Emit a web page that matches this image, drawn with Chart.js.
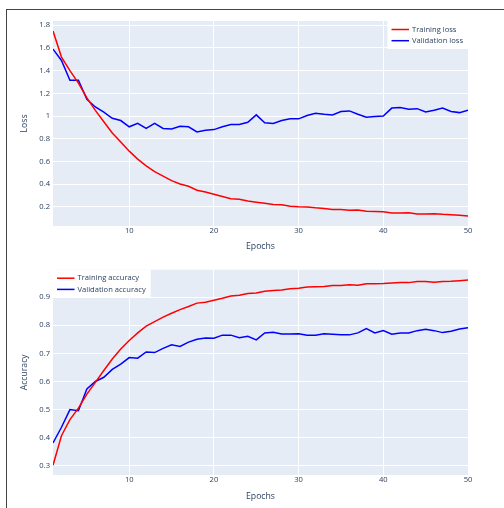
<!DOCTYPE html>
<html>
<head>
<meta charset="utf-8">
<script src="https://cdn.jsdelivr.net/npm/chart.js@4.4.1/dist/chart.umd.min.js"></script>
<style>
  html, body { margin: 0; padding: 0; background: #fff; }
  body { width: 504px; height: 508px; position: relative; overflow: hidden; }
  #frame { position: absolute; left: 6px; top: 9px; width: 600px; height: 600px;
           border-left: 1px solid #444; border-top: 1px solid #444; }
  canvas { position: absolute; left: 0; }
  #loss-chart { top: 0; }
  #acc-chart { top: 254px; }
</style>
</head>
<body>
<div id="frame"></div>
<canvas id="loss-chart" width="504" height="254"></canvas>
<canvas id="acc-chart" width="504" height="254"></canvas>
<script>
// data
const epochs = [1, 2, 3, 4, 5, 6, 7, 8, 9, 10, 11, 12, 13, 14, 15, 16, 17, 18, 19, 20,
  21, 22, 23, 24, 25, 26, 27, 28, 29, 30, 31, 32, 33, 34, 35, 36, 37, 38, 39, 40,
  41, 42, 43, 44, 45, 46, 47, 48, 49, 50];

const trainLoss = [1.75, 1.52, 1.40, 1.29, 1.16, 1.05, 0.95, 0.85, 0.77, 0.69,
  0.62, 0.56, 0.51, 0.47, 0.43, 0.40, 0.38, 0.345, 0.33, 0.31,
  0.29, 0.27, 0.265, 0.25, 0.24, 0.23, 0.22, 0.218, 0.205, 0.20,
  0.197, 0.19, 0.185, 0.175, 0.175, 0.168, 0.17, 0.16, 0.158, 0.155,
  0.145, 0.145, 0.147, 0.135, 0.135, 0.138, 0.133, 0.13, 0.124, 0.118];

const valLoss = [1.59, 1.49, 1.315, 1.315, 1.147, 1.08, 1.035, 0.98, 0.96, 0.905,
  0.935, 0.89, 0.935, 0.89, 0.885, 0.91, 0.905, 0.86, 0.875, 0.88,
  0.905, 0.925, 0.925, 0.945, 1.01, 0.94, 0.935, 0.96, 0.975, 0.975,
  1.005, 1.025, 1.015, 1.01, 1.04, 1.045, 1.015, 0.99, 0.995, 1.0,
  1.07, 1.075, 1.06, 1.065, 1.035, 1.05, 1.07, 1.04, 1.03, 1.05];

const trainAcc = [0.302, 0.407, 0.464, 0.505, 0.555, 0.597, 0.639, 0.68, 0.716, 0.746,
  0.773, 0.797, 0.813, 0.829, 0.843, 0.856, 0.867, 0.879, 0.882, 0.889,
  0.896, 0.904, 0.907, 0.913, 0.915, 0.921, 0.924, 0.926, 0.93, 0.932,
  0.936, 0.937, 0.938, 0.942, 0.942, 0.944, 0.943, 0.948, 0.948, 0.949,
  0.951, 0.952, 0.952, 0.956, 0.956, 0.953, 0.956, 0.957, 0.959, 0.961];

const valAcc = [0.381, 0.437, 0.5, 0.496, 0.573, 0.6, 0.615, 0.643, 0.662, 0.685,
  0.683, 0.705, 0.703, 0.718, 0.731, 0.725, 0.74, 0.75, 0.755, 0.754,
  0.765, 0.765, 0.756, 0.761, 0.748, 0.773, 0.775, 0.769, 0.769, 0.77,
  0.765, 0.765, 0.77, 0.768, 0.766, 0.766, 0.773, 0.788, 0.773, 0.781,
  0.768, 0.773, 0.773, 0.781, 0.786, 0.781, 0.774, 0.779, 0.787, 0.791];

const epochTicks = [10, 20, 30, 40, 50];
const lossTicks = [0.2, 0.4, 0.6, 0.8, 1, 1.2, 1.4, 1.6, 1.8];
const accTicks = [0.3, 0.4, 0.5, 0.6, 0.7, 0.8, 0.9];

const FONT = "'Open Sans', verdana, arial, sans-serif";
const TEXT = "#2a3f5f";

// --- plugins ---
const plotBg = {
  id: "plotBg",
  beforeDraw(chart) {
    const { ctx, chartArea: a } = chart;
    ctx.save();
    ctx.fillStyle = "#e5ecf6";
    ctx.fillRect(a.left, a.top, a.right - a.left, a.bottom - a.top);
    ctx.restore();
  },
};

// plotly style legend box sitting in a corner of the plot
const cornerLegend = {
  id: "cornerLegend",
  afterDraw(chart, args, opts) {
    const { ctx, chartArea: a } = chart;
    const sets = chart.data.datasets;
    ctx.save();
    ctx.font = "7.6px " + FONT;
    const textW = Math.max(...sets.map((d) => ctx.measureText(d.label).width));
    const w = 24.5 + textW + 5;
    const h = 28;
    const x0 = opts.side === "right" ? a.right - w : a.left;
    const y0 = a.top;
    ctx.fillStyle = "#fff";
    ctx.fillRect(x0, y0, w, h);
    sets.forEach((d, i) => {
      const y = y0 + 8.5 + i * 11.2;
      ctx.strokeStyle = d.borderColor;
      ctx.lineWidth = 1.5;
      ctx.beginPath();
      ctx.moveTo(x0 + 4, y);
      ctx.lineTo(x0 + 21.5, y);
      ctx.stroke();
      ctx.fillStyle = TEXT;
      ctx.textAlign = "left";
      ctx.textBaseline = "middle";
      ctx.fillText(d.label, x0 + 24.5, y);
    });
    ctx.restore();
  },
};

function makeChart(canvas, cfg) {
  const points = (ys) => ys.map((y, i) => ({ x: epochs[i], y }));
  return new Chart(canvas, {
    type: "line",
    data: {
      datasets: [
        { label: cfg.names[0], data: points(cfg.series[0]), borderColor: "#ff0000" },
        { label: cfg.names[1], data: points(cfg.series[1]), borderColor: "#0000ff" },
      ],
    },
    options: {
      responsive: false,
      animation: false,
      devicePixelRatio: 1,
      layout: { padding: { top: cfg.padTop, right: 36, left: 0, bottom: 0 } },
      elements: {
        line: { borderWidth: 1.5, tension: 0 },
        point: { radius: 0 },
      },
      scales: {
        x: {
          type: "linear",
          min: 1,
          max: 50,
          afterFit: (s) => { s.height = cfg.xHeight; },
          afterBuildTicks: (s) => { s.ticks = epochTicks.map((v) => ({ value: v })); },
          grid: { color: "#fff", lineWidth: 1, drawTicks: false },
          border: { display: false },
          ticks: { color: TEXT, font: { family: FONT, size: 7.6 }, padding: 0.5, maxRotation: 0 },
          title: {
            display: true,
            text: "Epochs",
            color: TEXT,
            font: { family: FONT, size: 8.7 },
            padding: { top: 0, bottom: cfg.titlePad },
          },
        },
        y: {
          min: cfg.yMin,
          max: cfg.yMax,
          afterFit: (s) => { s.width = 53; },
          afterBuildTicks: (s) => { s.ticks = cfg.yTicks.map((v) => ({ value: v })); },
          grid: { color: "#fff", lineWidth: 1, drawTicks: false },
          border: { display: false },
          ticks: {
            color: TEXT,
            font: { family: FONT, size: 7.6 },
            padding: 3,
            callback: (v) => String(Math.round(v * 10) / 10),
          },
          title: {
            display: true,
            text: cfg.yTitle,
            color: TEXT,
            font: { family: FONT, size: 8.7 },
            padding: { top: 19, bottom: 0 },
          },
        },
      },
      plugins: {
        legend: { display: false },
        tooltip: { enabled: false },
        cornerLegend: { side: cfg.legendSide },
      },
    },
    plugins: [plotBg, cornerLegend],
  });
}

makeChart(document.getElementById("loss-chart"), {
  names: ["Training loss", "Validation loss"],
  series: [trainLoss, valLoss],
  yTicks: lossTicks,
  yMin: 0.03,
  yMax: 1.838,
  yTitle: "Loss",
  padTop: 21,
  xHeight: 28,
  titlePad: 1.8,
  legendSide: "right",
});

makeChart(document.getElementById("acc-chart"), {
  names: ["Training accuracy", "Validation accuracy"],
  series: [trainAcc, valAcc],
  yTicks: accTicks,
  yMin: 0.267,
  yMax: 0.998,
  yTitle: "Accuracy",
  padTop: 15.7,
  xHeight: 33,
  titlePad: 6.5,
  legendSide: "left",
});
</script>
</body>
</html>
